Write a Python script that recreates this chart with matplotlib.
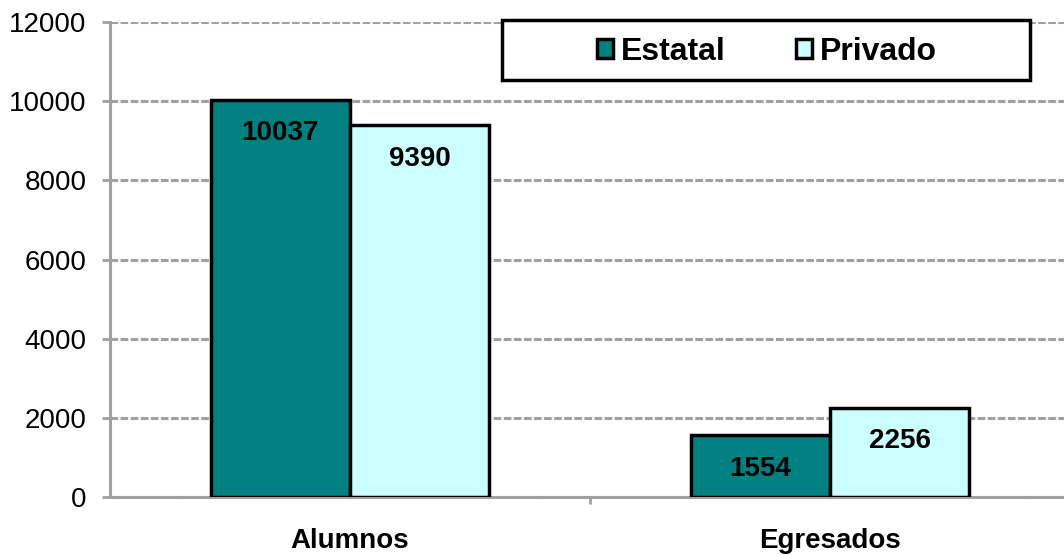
import matplotlib.pyplot as plt
from matplotlib.patches import Rectangle
import numpy as np

categorias = ['Alumnos', 'Egresados']
estatal = [10037, 1554]
privado = [9390, 2256]
y_ticks = [0, 2000, 4000, 6000, 8000, 10000, 12000]

plt.rcParams['font.family'] = ['Liberation Sans', 'DejaVu Sans']

fig = plt.figure(figsize=(10.64, 5.55), dpi=100)
ax = fig.add_axes([110 / 1064, 58 / 555, 960 / 1064, 475 / 555])

x = np.arange(len(categorias))
w = 0.29
b1 = ax.bar(x - w / 2, estatal, w, color='#008080', edgecolor='black', linewidth=2.5, label='Estatal', zorder=3)
b2 = ax.bar(x + w / 2, privado, w, color='#CCFFFF', edgecolor='black', linewidth=2.5, label='Privado', zorder=3)

for bars, vals in [(b1, estatal), (b2, privado)]:
    for r, v in zip(bars, vals):
        ax.annotate(str(v), (r.get_x() + r.get_width() / 2, v), xytext=(0, -24),
                    textcoords='offset points', ha='center', va='center',
                    fontsize=20, fontweight='bold', zorder=4)

ax.set_xlim(-0.5, 1.5)
ax.set_ylim(0, 12000)
ax.set_yticks(y_ticks)
ax.set_yticklabels([str(t) for t in y_ticks], fontsize=20)
ax.set_xticks([0.5])
ax.set_xticklabels([''])
ax.set_xticks(x, minor=True)
ax.set_xticklabels(categorias, minor=True, fontsize=20, fontweight='bold')
ax.tick_params(axis='x', which='minor', length=0, pad=22)
ax.tick_params(axis='x', which='major', length=5, width=2, color='#a0a0a0')
ax.tick_params(axis='y', length=6, width=2, color='#a0a0a0', pad=11)

ax.yaxis.grid(True, linestyle=(0, (2.5, 0.8)), color='#a0a0a0', linewidth=2.2)
ax.set_axisbelow(True)
for s in ['top', 'right']:
    ax.spines[s].set_visible(False)
for s in ['left', 'bottom']:
    ax.spines[s].set_color('#a0a0a0')
    ax.spines[s].set_linewidth(2.2)
    ax.spines[s].set_linestyle((0, (2.5, 0.8)))

# legend box
fig.patches.append(Rectangle((502 / 1064, (555 - 80) / 555), 528 / 1064, 60 / 555,
                             transform=fig.transFigure, facecolor='white',
                             edgecolor='black', linewidth=2.5, zorder=5))
leg = fig.legend(handles=[b1, b2], loc='center', bbox_to_anchor=(767 / 1064, (555 - 52) / 555),
                 ncol=2, frameon=False, prop={'size': 23, 'weight': 'bold'},
                 handlelength=0.5, handleheight=0.55, handletextpad=0.25, columnspacing=2.2)
leg.set_zorder(6)
for p in leg.get_patches():
    p.set_linewidth(2.5)

plt.savefig('out.png', dpi=100)
